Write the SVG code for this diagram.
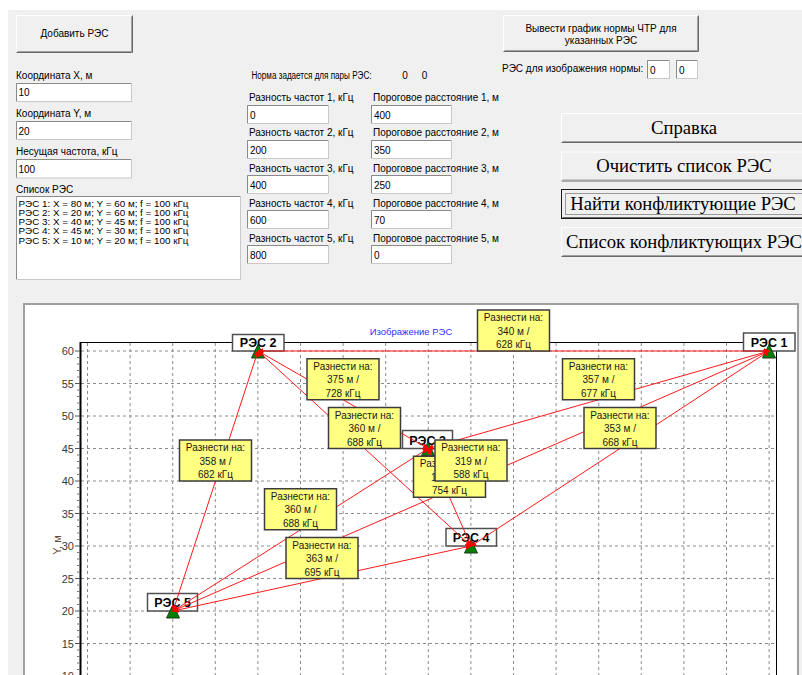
<svg xmlns="http://www.w3.org/2000/svg" width="802" height="675" viewBox="0 0 802 675">
  <style>
    .ui { font-family: "Liberation Sans", Arial, sans-serif; font-size: 10px; fill: #000; }
    .li { font-family: "Liberation Sans", Arial, sans-serif; font-size: 8.6px; fill: #000; }
    .big { font-family: "Liberation Serif", "Times New Roman", serif; font-size: 18.7px; fill: #000; text-anchor: middle; }
    .face { fill: #f0f0f0; }
    .hl { stroke: #ffffff; fill: none; }
    .sh { stroke: #696969; fill: none; }
    .sh2 { stroke: #a0a0a0; fill: none; }
    .box { fill: #ffffff; stroke: #c8c8c8; }
    .boxsh { stroke: #8a8a8a; fill: none; }
    .grid { stroke: #8c8c8c; stroke-width: 1; stroke-dasharray: 3 3; fill: none; }
    .tick { font-family: "Liberation Sans", Arial, sans-serif; font-size: 11px; fill: #3a3a3a; text-anchor: end; }
    .link { stroke: #ff1a1a; stroke-width: 1; fill: none; marker-start: url(#cap); marker-end: url(#cap); }
    .note rect { fill: #ffff80; stroke: #3c3c3c; stroke-width: 1.5; }
    .note text { font-family: "Liberation Sans", Arial, sans-serif; font-size: 10px; fill: #1a1a1a; text-anchor: middle; }
    .tag rect { fill: #ffffff; stroke: #505050; stroke-width: 1.5; }
    .tag text { font-family: "Liberation Sans", Arial, sans-serif; font-size: 12.5px; font-weight: bold; fill: #000; text-anchor: middle; }
    .mast { fill: #008000; stroke: #1e3a1e; stroke-width: 1; }
  </style>
  <defs>
    <marker id="cap" viewBox="0 0 8 8" refX="7" refY="4" markerWidth="6" markerHeight="6" orient="auto-start-reverse" markerUnits="userSpaceOnUse">
      <path d="M0,0 L8,4 L0,8 z" fill="#ff0000"/>
    </marker>
  </defs>

  <!-- window background -->
  <rect x="0" y="0" width="802" height="675" fill="#ffffff"/>
  <rect x="8" y="10" width="794" height="665" fill="#f0f0f0"/>

  <!-- ===== input form ===== -->
  <g id="btn-add">
    <rect class="face" x="16" y="15" width="117" height="38"/>
    <path class="hl" d="M16.5,52 V15.5 H132"/>
    <path class="sh" d="M16.5,52.5 H132.5 V15.5"/>
    <path class="sh2" d="M17.5,51.5 H131.5 V16.5"/>
    <text class="ui" x="74.5" y="37" text-anchor="middle">Добавить РЭС</text>
  </g>

  <g id="field-x">
    <text class="ui" x="16" y="78.6">Координата X, м</text>
    <rect class="box" x="16.5" y="83.5" width="115" height="18"/>
    <path class="boxsh" d="M16.5,101 V83.5 H131"/>
    <text class="ui" x="18.5" y="96">10</text>
  </g>
  <g id="field-y">
    <text class="ui" x="16" y="117">Координата Y, м</text>
    <rect class="box" x="16.5" y="121.5" width="115" height="18"/>
    <path class="boxsh" d="M16.5,139 V121.5 H131"/>
    <text class="ui" x="18.5" y="134.5">20</text>
  </g>
  <g id="field-f">
    <text class="ui" x="16" y="155.3">Несущая частота, кГц</text>
    <rect class="box" x="16.5" y="159.5" width="115" height="18.5"/>
    <path class="boxsh" d="M16.5,177.5 V159.5 H131"/>
    <text class="ui" x="18.5" y="172.5">100</text>
  </g>
  <g id="station-list">
    <text class="ui" x="16" y="193">Список РЭС</text>
    <rect class="box" x="16.5" y="196.5" width="224" height="83"/>
    <path class="boxsh" d="M16.5,279 V196.5 H240"/>
    <text class="li" x="18.5" y="206.5" textLength="170" lengthAdjust="spacingAndGlyphs">РЭС 1: X = 80 м; Y = 60 м; f = 100 кГц</text>
    <text class="li" x="18.5" y="215.8" textLength="170" lengthAdjust="spacingAndGlyphs">РЭС 2: X = 20 м; Y = 60 м; f = 100 кГц</text>
    <text class="li" x="18.5" y="225.1" textLength="170" lengthAdjust="spacingAndGlyphs">РЭС 3: X = 40 м; Y = 45 м; f = 100 кГц</text>
    <text class="li" x="18.5" y="234.4" textLength="170" lengthAdjust="spacingAndGlyphs">РЭС 4: X = 45 м; Y = 30 м; f = 100 кГц</text>
    <text class="li" x="18.5" y="243.7" textLength="170" lengthAdjust="spacingAndGlyphs">РЭС 5: X = 10 м; Y = 20 м; f = 100 кГц</text>
  </g>

  <g id="norm-table">
    <text class="ui" x="251.5" y="78.6" textLength="120" lengthAdjust="spacingAndGlyphs">Норма задается для пары РЭС:</text>
    <text class="ui" x="402.3" y="78.6">0</text>
    <text class="ui" x="421.7" y="78.6">0</text>

    <text class="ui" x="249" y="101.3">Разность частот 1, кГц</text>
    <text class="ui" x="373" y="101.3">Пороговое расстояние 1, м</text>
    <rect class="box" x="247.5" y="105.5" width="81" height="18"/>
    <path class="boxsh" d="M247.5,123 V105.5 H328"/>
    <text class="ui" x="250" y="118.5">0</text>
    <rect class="box" x="371.5" y="105.5" width="80" height="18"/>
    <path class="boxsh" d="M371.5,123 V105.5 H451"/>
    <text class="ui" x="374" y="118.5">400</text>

    <text class="ui" x="249" y="136.3">Разность частот 2, кГц</text>
    <text class="ui" x="373" y="136.3">Пороговое расстояние 2, м</text>
    <rect class="box" x="247.5" y="140.5" width="81" height="18"/>
    <path class="boxsh" d="M247.5,158 V140.5 H328"/>
    <text class="ui" x="250" y="153.5">200</text>
    <rect class="box" x="371.5" y="140.5" width="80" height="18"/>
    <path class="boxsh" d="M371.5,158 V140.5 H451"/>
    <text class="ui" x="374" y="153.5">350</text>

    <text class="ui" x="249" y="172">Разность частот 3, кГц</text>
    <text class="ui" x="373" y="172">Пороговое расстояние 3, м</text>
    <rect class="box" x="247.5" y="175.5" width="81" height="18"/>
    <path class="boxsh" d="M247.5,193 V175.5 H328"/>
    <text class="ui" x="250" y="188.5">400</text>
    <rect class="box" x="371.5" y="175.5" width="80" height="18"/>
    <path class="boxsh" d="M371.5,193 V175.5 H451"/>
    <text class="ui" x="374" y="188.5">250</text>

    <text class="ui" x="249" y="207">Разность частот 4, кГц</text>
    <text class="ui" x="373" y="207">Пороговое расстояние 4, м</text>
    <rect class="box" x="247.5" y="210.5" width="81" height="18"/>
    <path class="boxsh" d="M247.5,228 V210.5 H328"/>
    <text class="ui" x="250" y="223.5">600</text>
    <rect class="box" x="371.5" y="210.5" width="80" height="18"/>
    <path class="boxsh" d="M371.5,228 V210.5 H451"/>
    <text class="ui" x="374" y="223.5">70</text>

    <text class="ui" x="249" y="242">Разность частот 5, кГц</text>
    <text class="ui" x="373" y="242">Пороговое расстояние 5, м</text>
    <rect class="box" x="247.5" y="245.5" width="81" height="18"/>
    <path class="boxsh" d="M247.5,263 V245.5 H328"/>
    <text class="ui" x="250" y="258.5">800</text>
    <rect class="box" x="371.5" y="245.5" width="80" height="18"/>
    <path class="boxsh" d="M371.5,263 V245.5 H451"/>
    <text class="ui" x="374" y="258.5">0</text>
  </g>

  <g id="btn-norm-plot">
    <rect class="face" x="503" y="15" width="196" height="37"/>
    <path class="hl" d="M503.5,51 V15.5 H698"/>
    <path class="sh" d="M503.5,51.5 H698.5 V15.5"/>
    <path class="sh2" d="M504.5,50.5 H697.5 V16.5"/>
    <text class="ui" x="601" y="31.5" text-anchor="middle">Вывести график нормы ЧТР для</text>
    <text class="ui" x="601" y="44" text-anchor="middle">указанных РЭС</text>
  </g>
  <g id="norm-pair">
    <text class="ui" x="502" y="72">РЭС для изображения нормы:</text>
    <rect class="box" x="647.5" y="60.5" width="22" height="18"/>
    <path class="boxsh" d="M647.5,78 V60.5 H669"/>
    <text class="ui" x="650" y="73.5">0</text>
    <rect class="box" x="676.5" y="60.5" width="21" height="18"/>
    <path class="boxsh" d="M676.5,78 V60.5 H697"/>
    <text class="ui" x="679" y="73.5">0</text>
  </g>

  <g id="btn-help">
    <rect class="face" x="561" y="113" width="250" height="30"/>
    <path class="hl" d="M561.5,142 V113.5 H811"/>
    <path class="sh" d="M561.5,142.5 H811"/>
    <path class="sh2" d="M562.5,141.5 H811"/>
    <text class="big" x="684" y="134">Справка</text>
  </g>
  <g id="btn-clear">
    <rect class="face" x="561" y="151.5" width="250" height="30"/>
    <path class="hl" d="M561.5,180.5 V152 H811"/>
    <path class="sh" d="M561.5,181 H811"/>
    <path class="sh2" d="M562.5,180 H811"/>
    <text class="big" x="684" y="172.3">Очистить список РЭС</text>
  </g>
  <g id="btn-find">
    <rect class="face" x="561" y="189" width="250" height="30"/>
    <rect x="561.5" y="189.5" width="250" height="29" fill="none" stroke="#1a1a1a"/>
    <path class="sh" d="M562.5,217.5 H811"/>
    <rect x="565.5" y="193.5" width="250" height="21" fill="none" stroke="#404040" stroke-dasharray="1 1"/>
    <text class="big" x="683" y="210.3">Найти конфликтующие РЭС</text>
  </g>
  <g id="btn-conflicts">
    <rect class="face" x="561" y="227" width="250" height="30"/>
    <path class="hl" d="M561.5,256 V227.5 H811"/>
    <path class="sh" d="M561.5,256.5 H811"/>
    <path class="sh2" d="M562.5,255.5 H811"/>
    <text class="big" x="684" y="248.3">Список конфликтующих РЭС</text>
  </g>

  <!-- ===== chart ===== -->
  <g id="chart-frame">
    <rect x="24" y="304" width="774" height="380" fill="#ffffff" stroke="#a0a0a0" stroke-width="2"/>
    <text x="411" y="335" font-family="Liberation Sans, Arial, sans-serif" font-size="9.5px" fill="#3030ff" text-anchor="middle">Изображение РЭС</text>
  </g>

  <g id="grid">
    <path class="grid" d="M81,351 H776 M81,383.5 H776 M81,416 H776 M81,448.5 H776 M81,481 H776 M81,513.5 H776 M81,546 H776 M81,578.5 H776 M81,611 H776 M81,643.5 H776"/>
    <path class="grid" d="M87.5,343 V675 M130.1,343 V675 M172.7,343 V675 M215.3,343 V675 M257.9,343 V675 M300.5,343 V675 M343.1,343 V675 M385.7,343 V675 M428.3,343 V675 M470.9,343 V675 M513.5,343 V675 M556.1,343 V675 M598.7,343 V675 M641.3,343 V675 M683.9,343 V675 M726.5,343 V675 M769.1,343 V675"/>
  </g>

  <g id="axes">
    <path d="M80,342.5 H776.5 V675" fill="none" stroke="#000" stroke-width="1"/>
    <path d="M80.5,342 V675" stroke="#000" stroke-width="2"/>
    <!-- major ticks -->
    <path d="M75,351 H80 M75,383.5 H80 M75,416 H80 M75,448.5 H80 M75,481 H80 M75,513.5 H80 M75,546 H80 M75,578.5 H80 M75,611 H80 M75,643.5 H80" stroke="#555" stroke-width="1"/>
    <!-- minor ticks -->
    <path d="M77,357.5 H80 M77,364 H80 M77,370.5 H80 M77,377 H80 M77,390 H80 M77,396.5 H80 M77,403 H80 M77,409.5 H80 M77,422.5 H80 M77,429 H80 M77,435.5 H80 M77,442 H80 M77,455 H80 M77,461.5 H80 M77,468 H80 M77,474.5 H80 M77,487.5 H80 M77,494 H80 M77,500.5 H80 M77,507 H80 M77,520 H80 M77,526.5 H80 M77,533 H80 M77,539.5 H80 M77,552.5 H80 M77,559 H80 M77,565.5 H80 M77,572 H80 M77,585 H80 M77,591.5 H80 M77,598 H80 M77,604.5 H80 M77,617.5 H80 M77,624 H80 M77,630.5 H80 M77,637 H80 M77,650 H80 M77,656.5 H80 M77,663 H80 M77,669.5 H80" stroke="#777" stroke-width="1"/>
    <text class="tick" x="74" y="355">60</text>
    <text class="tick" x="74" y="387.5">55</text>
    <text class="tick" x="74" y="420">50</text>
    <text class="tick" x="74" y="452.5">45</text>
    <text class="tick" x="74" y="485">40</text>
    <text class="tick" x="74" y="517.5">35</text>
    <text class="tick" x="74" y="550">30</text>
    <text class="tick" x="74" y="582.5">25</text>
    <text class="tick" x="74" y="615">20</text>
    <text class="tick" x="74" y="647.5">15</text>
    <text class="tick" x="74" y="680">10</text>
    <text x="61" y="545" transform="rotate(-90 61 545)" font-family="Liberation Sans, Arial, sans-serif" font-size="11px" fill="#6a4a3a" text-anchor="middle">Y, м</text>
  </g>

  <!-- stations: name plate, then mast symbol -->
  <g id="res1" class="tag">
    <rect x="743.5" y="333" width="51.5" height="18"/>
    <text x="769" y="347">РЭС 1</text>
    <path class="mast" d="M769,344.5 L775.5,358 L762.5,358 z"/>
  </g>
  <g id="res2" class="tag">
    <rect x="232.5" y="334.5" width="51.5" height="16.5"/>
    <text x="258.2" y="347">РЭС 2</text>
    <path class="mast" d="M258,344.5 L264.5,358 L251.5,358 z"/>
  </g>
  <g id="res3" class="tag">
    <rect x="402.5" y="430.5" width="50" height="18"/>
    <text x="427.5" y="444.5">РЭС 3</text>
    <path class="mast" d="M428,442 L434.5,455.5 L421.5,455.5 z"/>
  </g>
  <g id="res4" class="tag">
    <rect x="446" y="528.5" width="50.5" height="17.5"/>
    <text x="471.2" y="542">РЭС 4</text>
    <path class="mast" d="M471,539.5 L477.5,553 L464.5,553 z"/>
  </g>
  <g id="res5" class="tag">
    <rect x="147.5" y="593.5" width="50" height="17.5"/>
    <text x="172.5" y="607">РЭС 5</text>
    <path class="mast" d="M173,604.5 L179.5,618 L166.5,618 z"/>
  </g>

  <g id="connectors">
    <line class="link" x1="258" y1="351" x2="769" y2="351" stroke-width="1.5"/>
    <line class="link" x1="769" y1="351" x2="428" y2="448.5"/>
    <line class="link" x1="769" y1="351" x2="471" y2="546"/>
    <line class="link" x1="769" y1="351" x2="173" y2="611"/>
    <line class="link" x1="258" y1="351" x2="428" y2="448.5"/>
    <line class="link" x1="258" y1="351" x2="471" y2="546"/>
    <line class="link" x1="258" y1="351" x2="173" y2="611"/>
    <line class="link" x1="428" y1="448.5" x2="471" y2="546"/>
    <line class="link" x1="428" y1="448.5" x2="173" y2="611"/>
    <line class="link" x1="471" y1="546" x2="173" y2="611"/>
  </g>

  <g id="separation-notes">
    <g class="note" id="note-1-2">
      <rect x="477.5" y="310" width="72" height="41"/>
      <text x="513.5" y="321">Разнести на:</text>
      <text x="513.5" y="334.5">340 м /</text>
      <text x="513.5" y="348">628 кГц</text>
    </g>
    <g class="note" id="note-1-3">
      <rect x="562.5" y="358.75" width="72" height="41"/>
      <text x="598.5" y="369.75">Разнести на:</text>
      <text x="598.5" y="383.25">357 м /</text>
      <text x="598.5" y="396.75">677 кГц</text>
    </g>
    <g class="note" id="note-1-4">
      <rect x="584" y="407.5" width="72" height="41"/>
      <text x="620" y="418.5">Разнести на:</text>
      <text x="620" y="432">353 м /</text>
      <text x="620" y="445.5">668 кГц</text>
    </g>
    <g class="note" id="note-2-3">
      <rect x="307" y="358.75" width="72" height="41"/>
      <text x="343" y="369.75">Разнести на:</text>
      <text x="343" y="383.25">375 м /</text>
      <text x="343" y="396.75">728 кГц</text>
    </g>
    <g class="note" id="note-2-4">
      <rect x="328.5" y="407.5" width="72" height="41"/>
      <text x="364.5" y="418.5">Разнести на:</text>
      <text x="364.5" y="432">360 м /</text>
      <text x="364.5" y="445.5">688 кГц</text>
    </g>
    <g class="note" id="note-2-5">
      <rect x="179.5" y="440" width="72" height="41"/>
      <text x="215.5" y="451">Разнести на:</text>
      <text x="215.5" y="464.5">358 м /</text>
      <text x="215.5" y="478">682 кГц</text>
    </g>
    <g class="note" id="note-3-4">
      <rect x="413.5" y="456.25" width="72" height="41"/>
      <text x="449.5" y="467.25">Разнести на:</text>
      <text x="431" y="480.75" style="text-anchor:start">1</text>
      <text x="449.5" y="494.25">754 кГц</text>
    </g>
    <g class="note" id="note-1-5">
      <rect x="435" y="440" width="72" height="41"/>
      <text x="471" y="451">Разнести на:</text>
      <text x="471" y="464.5">319 м /</text>
      <text x="471" y="478">588 кГц</text>
    </g>
    <g class="note" id="note-3-5">
      <rect x="264.5" y="488.75" width="72" height="41"/>
      <text x="300.5" y="499.75">Разнести на:</text>
      <text x="300.5" y="513.25">360 м /</text>
      <text x="300.5" y="526.75">688 кГц</text>
    </g>
    <g class="note" id="note-4-5">
      <rect x="286" y="537.5" width="72" height="41"/>
      <text x="322" y="548.5">Разнести на:</text>
      <text x="322" y="562">363 м /</text>
      <text x="322" y="575.5">695 кГц</text>
    </g>
  </g>
</svg>
